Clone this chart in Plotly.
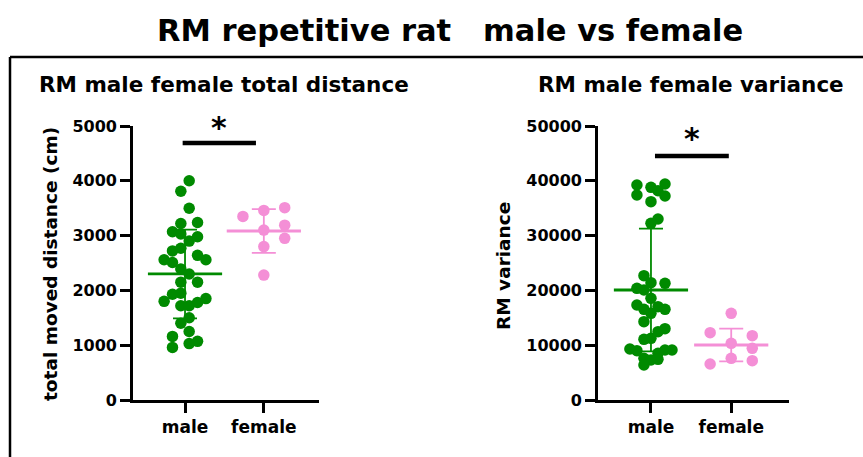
import plotly.graph_objects as go

W, H = 863, 457

# ---------------- data ----------------
categories = ["male", "female"]

dist_male = [4000, 3810, 3500, 3220, 3240, 3070, 3030, 2900, 2980, 2720, 2770,
             2560, 2510, 2640, 2560, 2390, 2300, 2150, 2150, 1930, 1950, 1800,
             1720, 1720, 1780, 1850, 1500, 1400, 1250, 1160, 960, 1030, 1070]
dist_male_col = [0.5, -0.5, 0.5, -0.5, 1.5, -1.5, -0.5, 0.5, 1.5, -1.5, -0.5,
                 -2.5, -1.5, 1.5, 2.5, -0.5, 0.5, -0.5, 1.5, -1.5, -0.5, -2.5,
                 -0.5, 0.5, 1.5, 2.5, 0.5, -0.5, 0.5, -1.5, -1.5, 0.5, 1.5]
dist_female = [3350, 3460, 3510, 3100, 3190, 2950, 2800, 2280]
dist_female_col = [-2.5, 0, 2.5, 0, 2.5, 2.5, 0, 0]
dist_mean = [2300, 3084]
dist_sd = [810, 400]

var_male = [39240, 38810, 39420, 37410, 38200, 37230, 36190, 33030, 32240,
            22690, 20380, 21410, 21290, 20070, 18550, 17340, 16550, 17030,
            16550, 15820, 14300, 13020, 12470, 11250, 11070, 9310, 9000, 9130,
            9130, 8520, 7600, 7300, 7420, 6390]
var_male_col = [-2, 0, 2, -2, 1, 2, 0, 1, 0,
                -1, -2, 0, 2, -1, 0, -2, -1, 1,
                2, 0, -1, 2, 1, 0, -1, -3, -2, 2,
                3, 1, -1, 0, 1, -1]
var_female = [15820, 12290, 11740, 10340, 9430, 6570, 7600, 7180]
var_female_col = [0, -3, 3, 0, 3, -3, 0, 3]
var_mean = [20070, 10040]
var_sd = [11200, 3000]

dist_ticks = [0, 1000, 2000, 3000, 4000, 5000]
var_ticks = [0, 10000, 20000, 30000, 40000, 50000]

GREEN = "#008a00"
PINK = "#f48fd6"
FONT = "DejaVu Sans, Arial, sans-serif"


def px(x):
    return x / W


def py(y):
    return 1 - y / H


fig = go.Figure()


def add_panel(xa, ya, male, mcol, female, fcol, mean, sd, step):
    fig.add_trace(go.Scatter(
        x=[0 + c * step for c in mcol], y=male, mode="markers",
        marker=dict(color=GREEN, size=11.5, line=dict(width=0)),
        xaxis=xa, yaxis=ya, showlegend=False, hoverinfo="y"))
    fig.add_trace(go.Scatter(
        x=[1 + c * step for c in fcol], y=female, mode="markers",
        marker=dict(color=PINK, size=11.5, line=dict(width=0)),
        xaxis=xa, yaxis=ya, showlegend=False, hoverinfo="y"))
    for i, col in enumerate([GREEN, PINK]):
        fig.add_trace(go.Scatter(
            x=[i], y=[mean[i]], mode="markers",
            marker=dict(symbol="line-ew", size=53,
                        line=dict(width=2.8, color=col)),
            error_y=dict(type="data", array=[sd[i]], visible=True,
                         color=col, thickness=1.8, width=12),
            xaxis=xa, yaxis=ya, showlegend=False, hoverinfo="y"))


add_panel("x", "y", dist_male, dist_male_col, dist_female, dist_female_col,
          dist_mean, dist_sd, 0.106)
add_panel("x2", "y2", var_male, var_male_col, var_female, var_female_col,
          var_mean, var_sd, 0.0875)

axis_common = dict(showline=True, linewidth=2.6, linecolor="black",
                   ticks="outside", ticklen=10, tickwidth=2.6,
                   tickcolor="black", showgrid=False, zeroline=False,
                   automargin=False,
                   tickfont=dict(family=FONT, size=16, color="black",
                                 weight="bold"))

ydom = [py(400), py(126)]
fig.update_layout(
    width=W, height=H,
    margin=dict(l=0, r=0, t=0, b=0, pad=0, autoexpand=False),
    paper_bgcolor="white", plot_bgcolor="white", showlegend=False,
    xaxis=dict(domain=[px(133), px(319)], range=[-0.66, 1.70],
               tickvals=[0, 1], ticktext=categories, anchor="y",
               **axis_common),
    yaxis=dict(domain=ydom, range=[0, 5000], tickvals=dist_ticks,
               ticktext=[str(v) for v in dist_ticks],
               anchor="x", **axis_common),
    xaxis2=dict(domain=[px(598), px(789)], range=[-0.66, 1.72],
                tickvals=[0, 1], ticktext=categories, anchor="y2",
                **axis_common),
    yaxis2=dict(domain=ydom, range=[0, 50000], tickvals=var_ticks,
                ticktext=[str(v) for v in var_ticks],
                anchor="x2", **axis_common),
)
fig.update_xaxes(tickfont=dict(size=17))

# significance bars
fig.add_shape(type="line", xref="x", yref="y", x0=-0.03, x1=0.9,
              y0=4690, y1=4690, line=dict(color="black", width=4.5))
fig.add_shape(type="line", xref="x2", yref="y2", x0=0.05, x1=0.97,
              y0=44530, y1=44530, line=dict(color="black", width=4.5))

annotations = [
    dict(text="<b>*</b>", xref="x", yref="y", x=0.43, y=4980,
         font=dict(size=30)),
    dict(text="<b>*</b>", xref="x2", yref="y2", x=0.51, y=47700,
         font=dict(size=30)),
    dict(text="<b>RM repetitive rat\u00a0\u00a0\u00a0male vs female</b>",
         x=px(450), y=py(30), font=dict(size=30.5)),
    dict(text="<b>RM male female total distance</b>", x=px(224), y=py(85),
         font=dict(size=21.5)),
    dict(text="<b>RM male female variance</b>", x=px(691), y=py(85),
         font=dict(size=21.5)),
    dict(text="<b>total moved distance (cm)</b>", x=px(50), y=py(264),
         textangle=-90, font=dict(size=18.5)),
    dict(text="<b>RM variance</b>", x=px(503), y=py(266),
         textangle=-90, font=dict(size=18.5)),
]
for a in annotations:
    a.setdefault("xref", "paper")
    a.setdefault("yref", "paper")
    a["showarrow"] = False
    a["xanchor"] = "center"
    a["yanchor"] = "middle"
    a["font"] = dict(family=FONT, color="black", **a["font"])
    fig.add_annotation(**a)

# frame
fig.add_shape(type="line", xref="paper", yref="paper", x0=px(10), x1=1.0,
              y0=py(57), y1=py(57), line=dict(color="black", width=2.5))
fig.add_shape(type="line", xref="paper", yref="paper", x0=px(10), x1=px(10),
              y0=py(57), y1=0.0, line=dict(color="black", width=2.5))

fig.write_html("out.html")
